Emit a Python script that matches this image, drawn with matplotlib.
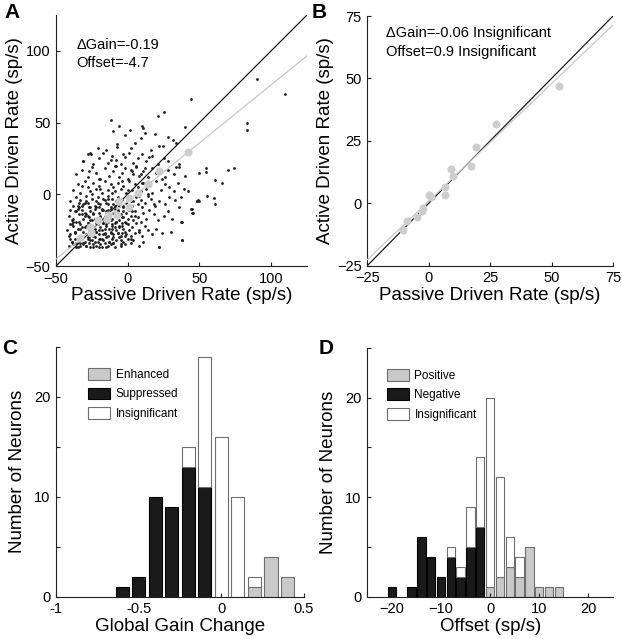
import matplotlib
matplotlib.use("Agg")
import matplotlib.pyplot as plt
from matplotlib.patches import Patch
import numpy as np

plt.rcParams['font.family'] = ['Liberation Sans', 'DejaVu Sans']

# ---------------- Panel A data (passive vs active driven rate, sp/s) --------------
passive_rate = [
    # y in [-37,-30]
    -41,-39,-38,-37,-36,-35,-34,-33,-32,-31,
    -30,-29,-28,-27,-26,-25,-24,-23,-22,-21,
    -20,-19,-18,-17,-16,-15,-14,-13,-12,-11,
    -10,-9,-8,-6,-5,-3,-2,0,2,4,
    -40,-36,-33,-29,-27,-24,-20,-15,8,22,
    # y in [-30,-20]
    -42,-40,-38,-37,-35,-34,-33,-31,-30,-29,
    -28,-27,-26,-25,-24,-23,-22,-21,-20,-19,
    -18,-17,-16,-15,-14,-13,-12,-11,-10,-9,
    -8,-7,-6,-5,-4,-3,-2,-1,0,1,
    3,5,6,8,10,12,14,17,20,24,
    -39,-32,-27,-22,-17,-12,-6,2,30,38,
    # y in [-20,-10]
    -41,-39,-37,-36,-34,-32,-31,-30,-28,-27,
    -26,-25,-24,-23,-22,-21,-20,-19,-18,-17,
    -16,-15,-14,-13,-12,-11,-10,-9,-8,-7,
    -6,-5,-4,-3,-2,-1,0,1,2,4,
    5,7,9,11,13,15,18,21,25,28,
    -35,-29,-20,-14,-8,-3,3,31,37,45,
    # y in [-10,0]
    -40,-38,-36,-34,-33,-31,-29,-28,-26,-25,
    -23,-22,-21,-19,-18,-16,-15,-14,-12,-11,
    -10,-8,-7,-6,-4,-3,-1,0,1,3,
    4,6,7,9,10,12,14,16,19,22,
    26,29,33,36,-30,-17,-9,2,8,18,
    44,49,48,55,37,
    # y in [0,10]
    -38,-35,-33,-30,-28,-26,-24,-22,-20,-18,
    -16,-14,-12,-10,-9,-7,-5,-3,-1,1,
    3,5,7,9,11,13,15,17,20,23,
    26,29,32,35,39,-25,-11,-4,6,14,
    -32,-19,0,10,42,
    # y in [10,20]
    -36,-32,-28,-25,-22,-19,-16,-13,-10,-8,
    -6,-4,-2,0,2,4,6,8,11,14,
    17,20,24,28,32,36,40,-20,-9,3,
    12,26,34,-27,9,
    # y in [20,30]
    -31,-28,-24,-20,-17,-14,-11,-8,-5,-2,
    1,4,7,10,13,17,21,25,-26,-12,
    -3,6,15,28,36,
    # y in [30,45]
    -7.7,-7.2,22,24.5,31.5,28.4,-15,-2,5,12,
    16,34,-21,2,9,19,39.6,-10,
    # outliers
    90,110,44,25,21,-12,-6,10,10.5,1.6,
    83,83,-25.4,-31,74,70,54.5,54.5,60.6,65.7,
    50,60,61,49.7,48.3,44.8,45.2,37.5,37.8,22,
    # dense lower-left cloud
    -41,-40,-39,-38,-37,-36,-35,-34,-33,-32,
    -31,-30,-29,-28,-27,-26,-25,-24,-23,-22,
    -21,-20,-19,-18,-17,-16,-15,-14,-13,-12,
    -11,-10,-9,-8,-7,-6,-5,-4,-3,-2,
    -40,-37,-34,-31,-28,-25,-22,-19,-16,-13,
    -10,-7,-4,-1,2,5,8,11,-38,-35,
    -32,-29,-26,-23,-20,-17,-14,-11,-8,-5,
]
active_rate = [
    -36,-33,-35,-31,-34,-37,-32,-36,-30,-35,
    -33,-36,-31,-34,-37,-32,-35,-30,-36,-33,
    -31,-35,-37,-32,-34,-30,-36,-33,-35,-31,
    -34,-37,-32,-30,-36,-33,-35,-31,-34,-32,
    -31,-37,-34,-36,-30,-37,-37,-37,-36,-37,
    -25,-28,-22,-27,-24,-29,-21,-26,-23,-28,
    -20,-25,-27,-22,-29,-24,-26,-21,-28,-23,
    -25,-20,-27,-22,-29,-24,-26,-21,-28,-23,
    -25,-27,-22,-29,-20,-24,-26,-28,-21,-25,
    -23,-27,-20,-26,-29,-22,-25,-28,-24,-27,
    -21,-23,-29,-26,-20,-27,-23,-29,-26,-32,
    -15,-18,-12,-19,-14,-11,-17,-13,-20,-16,
    -12,-18,-14,-10,-17,-19,-13,-15,-11,-18,
    -16,-12,-19,-14,-10,-17,-13,-20,-15,-11,
    -18,-14,-16,-12,-19,-13,-17,-11,-15,-18,
    -12,-16,-19,-13,-17,-11,-14,-18,-15,-12,
    -10,-14,-17,-11,-19,-16,-12,-17,-19,-13,
    -5,-8,-2,-9,-4,-7,-1,-6,-9,-3,
    -8,-5,-2,-7,-10,-4,-6,-1,-9,-3,
    -7,-5,-2,-8,-4,-9,-6,-1,-3,-8,
    -5,-2,-7,-4,-9,-6,-1,-3,-8,-5,
    -7,-2,-4,-9,-6,-3,-8,-5,-1,-7,
    -10,-4,-5,-1,-2,
    3,7,1,9,5,2,8,4,6,1,
    9,3,7,5,2,8,4,6,1,9,
    3,7,5,2,8,4,6,1,9,3,
    7,5,2,8,4,0,1,9,0,0,
    6,4,3,8,2,
    14,17,12,19,15,11,18,13,16,20,
    12,15,18,11,17,14,19,13,16,12,
    18,15,11,17,14,19,13,11,20,16,
    18,12,19,16,14,
    23,28,21,25,29,22,27,24,21,26,
    29,22,25,28,23,27,21,25,29,24,
    28,20,26,23,21,
    35,33,34,34,38,40,31,41,36,43,
    31,36,32,32,39,42,47,44,
    80.7,70.2,66.4,57.6,54.3,52,47.8,47.5,45.9,44.5,
    49.4,45,28.4,23,18.2,16.8,18.2,15.2,10,8.2,
    14.7,-2.8,-6.5,-4.7,-4.9,-10.3,-13.3,-19,-32,-36.6,
    -29,-21,-33,-17,-26,-12,-31,-19,-24,-8,
    -34,-15,-22,-30,-9,-18,-27,-13,-33,-20,
    -6,-25,-16,-31,-11,-28,-21,-7,-33,-18,
    -24,-30,-10,-19,-27,-14,-32,-22,-8,-29,
    -11,-26,-6,-30,-15,-22,-9,-31,-24,-17,
    -34,-12,-27,-20,-31,-15,-25,-33,-19,-8,
    -14,-5,-32,-17,-9,-28,-3,-22,-13,-35,
]
binned_passive = [-33.3, -25.9, -26, -21, -14.5, -14, -7.7, -6, 0.7, 1.2, 7, 14, 22.1, 42]
binned_active = [-30.8, -27.3, -22.6, -18, -17, -14.5, -14.5, -4.9, -2.6, -8.6, 1.2, 7.5, 16.3, 29.4]
gain_a, offset_a = 0.81, -4.7

# ---------------- Panel B data --------------
b_passive = [53.2, 27.5, 19.4, 17.3, 9.0, 9.9, 6.7, 6.7, 0.3, 1.1, -2.4, -2.8, -4.8, -8.7, -10.3]
b_active = [47.1, 31.6, 22.7, 15.0, 13.8, 10.8, 6.4, 3.3, 3.3, 2.7, -1.7, -2.9, -5.5, -6.9, -10.7]
gain_b, offset_b = 0.94, 0.9

# ---------------- Panel C data --------------
gain_centers = [-0.6, -0.5, -0.4, -0.3, -0.2, -0.1, 0.0, 0.1, 0.2, 0.3, 0.4]
gain_suppressed = [1, 2, 10, 9, 13, 11, 0, 0, 0, 0, 0]
gain_enhanced = [0, 0, 0, 0, 0, 0, 0, 0, 1, 4, 2]
gain_insignificant = [0, 0, 0, 0, 2, 13, 16, 10, 1, 0, 0]

# ---------------- Panel D data --------------
offset_centers = [-20, -16, -14, -12, -10, -8, -6, -4, -2, 0, 2, 4, 6, 8, 10, 12, 14]
offset_negative = [1, 1, 6, 4, 2, 4, 2, 5, 7, 0, 0, 0, 0, 0, 0, 0, 0]
offset_positive = [0, 0, 0, 0, 0, 0, 0, 0, 0, 1, 2, 3, 2, 5, 1, 1, 1]
offset_insignificant = [0, 0, 0, 0, 0, 1, 1, 4, 7, 19, 10, 3, 2, 0, 0, 0, 0]

GRAY_FILL = '#c9c9c9'
GRAY_EDGE = '#6e6e6e'
GRAY_PT = '#cdcdcd'

W, H = 622, 639
fig = plt.figure(figsize=(W / 100, H / 100), dpi=100)

def px_axes(l, t, r, b):
    return fig.add_axes([l / W, 1 - b / H, (r - l) / W, (b - t) / H])

def style(ax):
    for s in ['top', 'right']:
        ax.spines[s].set_visible(False)
    for s in ['left', 'bottom']:
        ax.spines[s].set_linewidth(0.8)
        ax.spines[s].set_color('#222222')
    ax.tick_params(direction='in', length=3, width=0.8, labelsize=10.5, pad=4,
                   color='#222222')

LABEL_FS = 13.5

# ---- A ----
axA = px_axes(56, 15, 307, 266)
style(axA)
axA.plot(passive_rate, active_rate, 'o', ms=2.0, color='#1e1e1e', mec='none', zorder=2)
xx = np.array([-50, 125])
axA.plot(xx, xx, color='#1a1a1a', lw=0.9, zorder=3)
axA.plot(xx, gain_a * xx + offset_a, color='#c8c8c8', lw=0.9, zorder=3)
axA.plot(binned_passive, binned_active, 'o', ms=5.8, color=GRAY_PT, mec='none', zorder=4)
axA.set_xlim(-50, 125)
axA.set_ylim(-50, 125)
axA.set_xticks([-50, 0, 50, 100])
axA.set_yticks([-50, 0, 50, 100])
axA.set_xlabel('Passive Driven Rate (sp/s)', fontsize=LABEL_FS, labelpad=1)
axA.set_ylabel('Active Driven Rate (sp/s)', fontsize=LABEL_FS, labelpad=2)
axA.text(0.082, 0.880, '\u0394Gain=-0.19', transform=axA.transAxes, fontsize=10.5, va='center')
axA.text(0.082, 0.809, 'Offset=-4.7', transform=axA.transAxes, fontsize=10.5, va='center')

# ---- B ----
axB = px_axes(367.3, 16, 613, 265.7)
style(axB)
xb = np.array([-25, 75])
axB.plot(xb, xb, color='#1a1a1a', lw=0.9, zorder=3)
axB.plot(xb, gain_b * xb + offset_b, color='#c8c8c8', lw=0.9, zorder=3)
axB.plot(b_passive, b_active, 'o', ms=5.8, color=GRAY_PT, mec='none', zorder=4)
axB.set_xlim(-25, 75)
axB.set_ylim(-25, 75)
axB.set_xticks([-25, 0, 25, 50, 75])
axB.set_yticks([-25, 0, 25, 50, 75])
axB.set_xlabel('Passive Driven Rate (sp/s)', fontsize=LABEL_FS, labelpad=1)
axB.set_ylabel('Active Driven Rate (sp/s)', fontsize=LABEL_FS, labelpad=2)
axB.text(0.078, 0.931, '\u0394Gain=-0.06 Insignificant', transform=axB.transAxes, fontsize=10.5, va='center')
axB.text(0.078, 0.857, 'Offset=0.9 Insignificant', transform=axB.transAxes, fontsize=10.5, va='center')

# ---- C ----
axC = px_axes(56, 347, 304, 596.7)
style(axC)
gc = np.array(gain_centers)
sup = np.array(gain_suppressed)
enh = np.array(gain_enhanced)
ins = np.array(gain_insignificant)
bw = 0.08
axC.bar(gc, sup, width=bw, color='#1a1a1a', edgecolor='#000000', lw=0.8)
axC.bar(gc, enh, width=bw, color=GRAY_FILL, edgecolor=GRAY_EDGE, lw=0.8)
m = ins > 0
axC.bar(gc[m], ins[m], bottom=(sup + enh)[m], width=bw, color='white', edgecolor=GRAY_EDGE, lw=0.8)
axC.set_xlim(-1, 0.5)
axC.set_ylim(0, 25)
axC.set_xticks([-1, -0.5, 0, 0.5])
axC.set_xticklabels(['-1', '-0.5', '0', '0.5'])
axC.set_yticks([0, 5, 10, 15, 20, 25])
axC.set_yticklabels(['0', '', '10', '', '20', ''])
axC.set_xlabel('Global Gain Change', fontsize=LABEL_FS, labelpad=1)
axC.set_ylabel('Number of Neurons', fontsize=LABEL_FS, labelpad=6)
hC = [Patch(facecolor=GRAY_FILL, edgecolor=GRAY_EDGE, lw=0.8, label='Enhanced'),
      Patch(facecolor='#1a1a1a', edgecolor='#000000', lw=0.8, label='Suppressed'),
      Patch(facecolor='white', edgecolor=GRAY_EDGE, lw=0.8, label='Insignificant')]
axC.legend(handles=hC, loc='upper left', bbox_to_anchor=(0.129, 0.915), frameon=False,
           fontsize=8.5, handlelength=1.9, handleheight=1.15, handletextpad=0.45,
           labelspacing=0.55, borderpad=0, borderaxespad=0)

# ---- D ----
axD = px_axes(367.3, 348, 613, 596.7)
style(axD)
oc = np.array(offset_centers)
neg = np.array(offset_negative)
pos = np.array(offset_positive)
oins = np.array(offset_insignificant)
bwd = 1.7
mn = neg > 0
mp = pos > 0
axD.bar(oc[mn], neg[mn], width=bwd, color='#1a1a1a', edgecolor='#000000', lw=0.8)
axD.bar(oc[mp], pos[mp], width=bwd, color=GRAY_FILL, edgecolor=GRAY_EDGE, lw=0.8)
mi = oins > 0
axD.bar(oc[mi], oins[mi], bottom=(neg + pos)[mi], width=bwd, color='white', edgecolor=GRAY_EDGE, lw=0.8)
axD.set_xlim(-25, 25)
axD.set_ylim(0, 25)
axD.set_xticks([-20, -10, 0, 10, 20])
axD.set_yticks([0, 5, 10, 15, 20, 25])
axD.set_yticklabels(['0', '', '10', '', '20', ''])
axD.set_xlabel('Offset (sp/s)', fontsize=LABEL_FS, labelpad=1)
axD.set_ylabel('Number of Neurons', fontsize=LABEL_FS, labelpad=6)
hD = [Patch(facecolor=GRAY_FILL, edgecolor=GRAY_EDGE, lw=0.8, label='Positive'),
      Patch(facecolor='#1a1a1a', edgecolor='#000000', lw=0.8, label='Negative'),
      Patch(facecolor='white', edgecolor=GRAY_EDGE, lw=0.8, label='Insignificant')]
axD.legend(handles=hD, loc='upper left', bbox_to_anchor=(0.079, 0.915), frameon=False,
           fontsize=8.5, handlelength=1.9, handleheight=1.15, handletextpad=0.45,
           labelspacing=0.55, borderpad=0, borderaxespad=0)

# panel letters
for lab, x, y in [('A', 4, 3), ('B', 312, 3), ('C', 2, 339), ('D', 319, 339)]:
    fig.text(x / W, 1 - y / H, lab, fontsize=15, fontweight='bold', va='top', ha='left')

fig.savefig('out.png', dpi=100)
